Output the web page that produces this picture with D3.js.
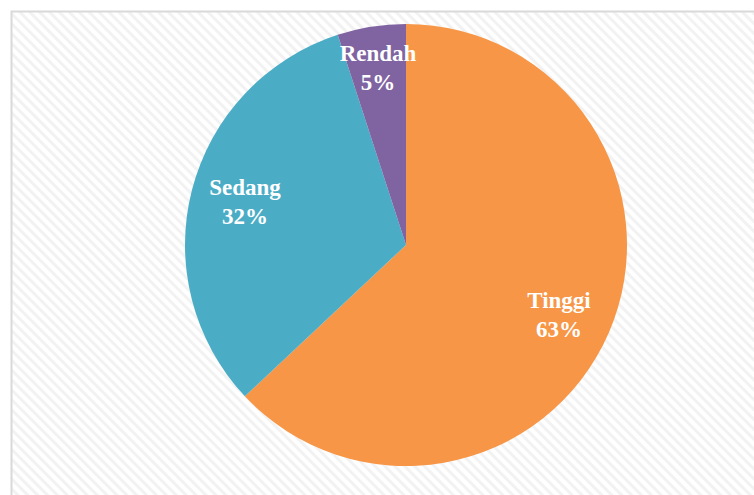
<!DOCTYPE html>
<html>
<head>
<meta charset="utf-8">
<script src="https://cdn.jsdelivr.net/npm/d3@7"></script>
<style>
  body { margin: 0; background: #fff; }
</style>
</head>
<body>
<div id="chart"></div>
<script>
  const categories = ["Tinggi", "Sedang", "Rendah"];
  const values = [63, 32, 5];
  const colors = ["#F79646", "#4BACC6", "#8064A2"];
  // label positions, as [dx, dy] from the pie centre
  const labelOffsets = [[153, 69], [-161, -44], [-28, -178]];

  const width = 754, height = 495;
  const cx = 406, cy = 245, radius = 221;

  const svg = d3.select("#chart").append("svg")
    .attr("width", width)
    .attr("height", height);

  const defs = svg.append("defs");
  const pattern = defs.append("pattern")
    .attr("id", "hatch")
    .attr("patternUnits", "userSpaceOnUse")
    .attr("width", 7)
    .attr("height", 7)
    .attr("patternTransform", "rotate(45)");
  pattern.append("rect").attr("width", 7).attr("height", 7).attr("fill", "#ffffff");
  pattern.append("rect").attr("width", 7).attr("height", 3).attr("fill", "#f2f2f2");

  // chart area frame
  svg.append("rect")
    .attr("x", 11.5)
    .attr("y", 11.5)
    .attr("width", width)
    .attr("height", height)
    .attr("fill", "url(#hatch)")
    .attr("stroke", "#d9d9d9")
    .attr("stroke-width", 2);

  const data = categories.map(function(c, i) {
    return { name: c, value: values[i], color: colors[i], off: labelOffsets[i] };
  });

  const pie = d3.pie().sort(null).value(function(d) { return d.value; });
  const arc = d3.arc().innerRadius(0).outerRadius(radius);

  const g = svg.append("g").attr("transform", "translate(" + cx + "," + cy + ")");

  g.selectAll(".slice")
    .data(pie(data))
    .enter().append("path")
    .attr("class", "slice")
    .attr("d", arc)
    .attr("fill", function(d) { return d.data.color; })
    .attr("stroke", "none");

  const labels = g.selectAll(".label")
    .data(pie(data))
    .enter().append("text")
    .attr("class", "label")
    .attr("text-anchor", "middle")
    .attr("fill", "#ffffff")
    .style("font-family", "'Liberation Serif', 'Times New Roman', serif")
    .style("font-weight", "bold")
    .style("font-size", "23px");

  labels.append("tspan")
    .attr("x", function(d) { return d.data.off[0]; })
    .attr("y", function(d) { return d.data.off[1] - 6; })
    .text(function(d) { return d.data.name; });
  labels.append("tspan")
    .attr("x", function(d) { return d.data.off[0]; })
    .attr("y", function(d) { return d.data.off[1] + 23; })
    .text(function(d) { return d.data.value + "%"; });
</script>
</body>
</html>
